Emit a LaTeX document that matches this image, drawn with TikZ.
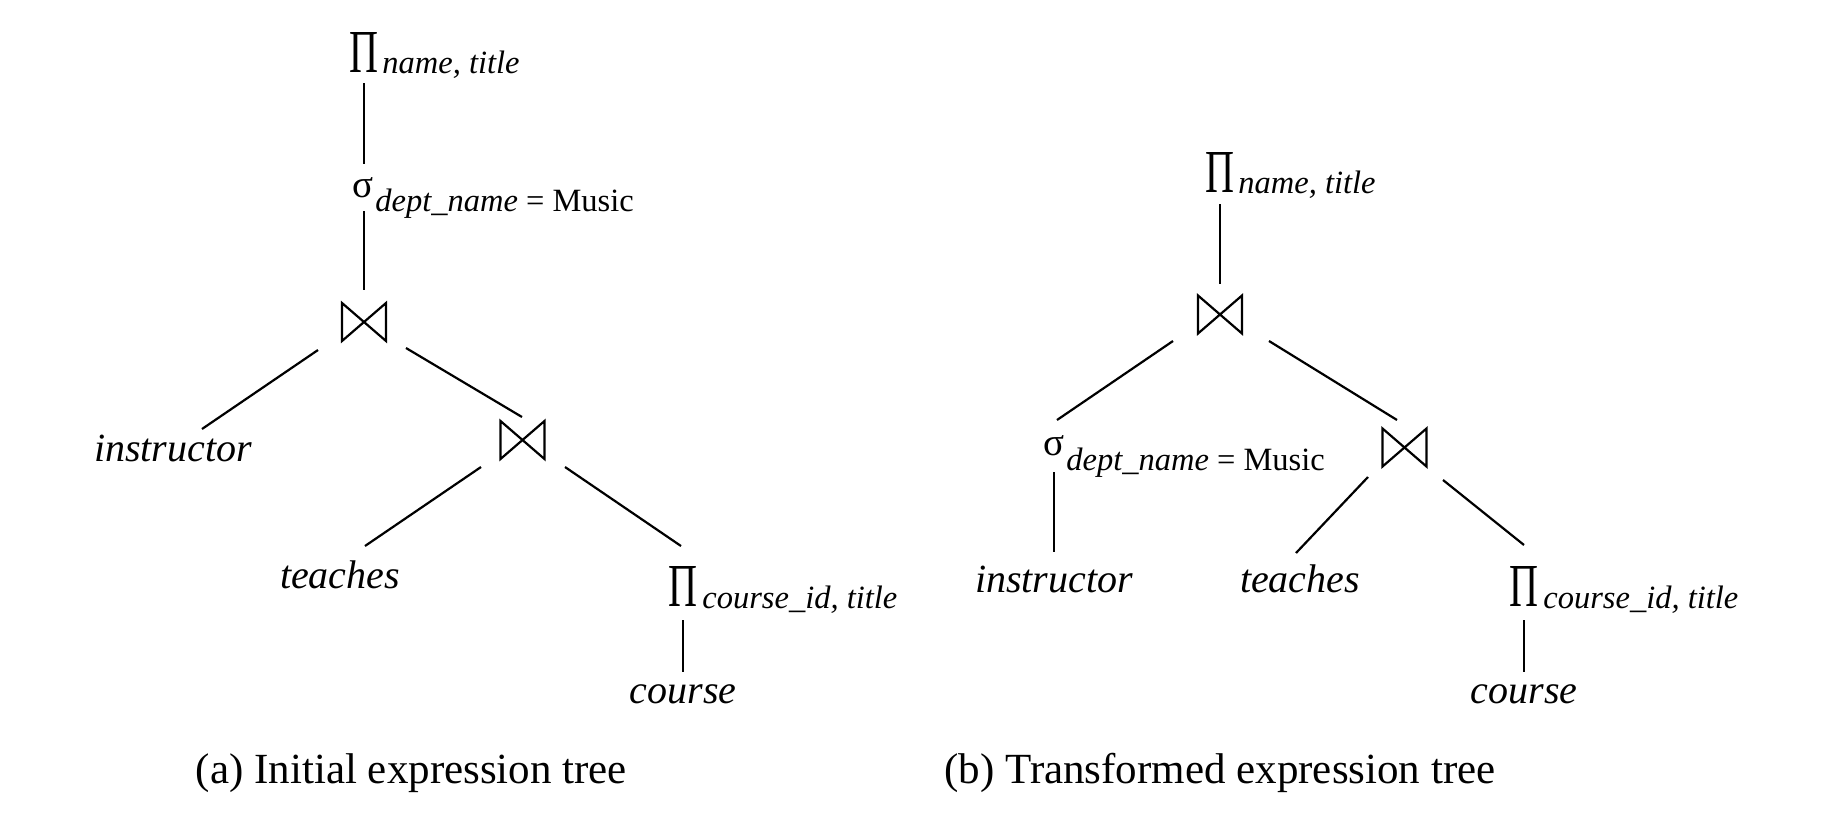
\documentclass[tikz,border=0pt]{standalone}
\usepackage{graphicx}
\usepackage{fontspec}
\setmainfont{Liberation Serif}
\usetikzlibrary{calc}
\tikzset{
  lbl/.style={inner sep=0pt, anchor=base, font=\fontsize{20}{24}\selectfont\itshape},
  subtext/.style={inner sep=0pt, anchor=base west, font=\fontsize{16.25}{19}\selectfont},
  opsym/.style={inner sep=0pt, outer sep=0pt},
  joinnode/.style={inner sep=0pt, outer sep=0pt, minimum width=22pt, minimum height=19pt},
  bow/.style={line width=1.1pt, line join=miter},
  conn/.style={line width=1.1pt},
  captext/.style={inner sep=0pt, anchor=base, font=\fontsize{21.5}{26}\selectfont}
}
\newcommand{\PiSym}{\resizebox{14.5pt}{20pt}{Π}}
\newcommand{\SigSym}{\resizebox{10.5pt}{10pt}{σ}}
\begin{document}
\begin{tikzpicture}[x=0.5pt, y=-0.5pt]
\path[use as bounding box] (0,0) rectangle (1826,820);

% ---------- (a) initial tree ----------
\node[opsym] (pa1) at (364,52) {\PiSym};
\node[subtext] (pa1s) at (382,73) {\itshape name, title};
\node[opsym] (sa) at (363,187.5) {\SigSym};
\node[subtext] (sas) at (375,211) {{\itshape dept\_name} = Music};
\node[joinnode] (ja1) at (364,322) {};
\node[lbl] (ia) at (173,461) {instructor};
\node[joinnode] (ja2) at (522.5,440) {};
\node[lbl] (ta) at (340,588) {teaches};
\node[opsym] (pa2) at (683,586) {\PiSym};
\node[subtext] (pa2s) at (702,608) {\itshape course\_id, title};
\node[lbl] (ca) at (683,703) {course};
\node[captext] (capa) at (411.5,783) {(a) Initial expression tree};

\draw[conn] ($(pa1)+(0,31)$) -- ($(sa)+(1,-23.5)$);
\draw[conn] ($(sa)+(1,23.5)$) -- ($(ja1)+(0,-32)$);
\draw[conn] ($(ja1)+(-46,28)$) -- ($(ia.base)+(29,-32)$);
\draw[conn] ($(ja1)+(42,26)$) -- ($(ja2)+(-0.5,-23)$);
\draw[conn] ($(ja2)+(-41.5,27)$) -- ($(ta.base)+(25,-42)$);
\draw[conn] ($(ja2)+(42.5,27)$) -- ($(pa2)+(-2,-40)$);
\draw[conn] ($(pa2)+(0,34)$) -- ($(ca.base)+(0,-31)$);

% ---------- (b) transformed tree ----------
\node[opsym] (pb1) at (1220,172) {\PiSym};
\node[subtext] (pb1s) at (1238,193) {\itshape name, title};
\node[joinnode] (jb1) at (1220,314.5) {};
\node[opsym] (sb) at (1054,446) {\SigSym};
\node[subtext] (sbs) at (1066,470) {{\itshape dept\_name} = Music};
\node[lbl] (ib) at (1054,592) {instructor};
\node[joinnode] (jb2) at (1404.5,447.5) {};
\node[lbl] (tb) at (1300,592) {teaches};
\node[opsym] (pb2) at (1524,586) {\PiSym};
\node[subtext] (pb2s) at (1543,608) {\itshape course\_id, title};
\node[lbl] (cb) at (1524,703) {course};
\node[captext] (capb) at (1220,783) {(b) Transformed expression tree};

\draw[conn] ($(pb1)+(0,32)$) -- ($(jb1)+(0,-30.5)$);
\draw[conn] ($(jb1)+(-47,26.5)$) -- ($(sb)+(3,-26)$);
\draw[conn] ($(jb1)+(49,26.5)$) -- ($(jb2)+(-7.5,-27.5)$);
\draw[conn] ($(sb)+(0,26)$) -- ($(ib.base)+(0,-40)$);
\draw[conn] ($(jb2)+(-36.5,29.5)$) -- ($(tb.base)+(-4,-39)$);
\draw[conn] ($(jb2)+(38.5,32.5)$) -- ($(pb2)+(0,-41)$);
\draw[conn] ($(pb2)+(0,34)$) -- ($(cb.base)+(0,-31)$);

% bowtie (natural join) symbols
\foreach \n in {ja1,ja2,jb1,jb2}
  \draw[bow] (\n.north west) -- (\n.south west) -- (\n.north east) -- (\n.south east) -- cycle;
\end{tikzpicture}
\end{document}
